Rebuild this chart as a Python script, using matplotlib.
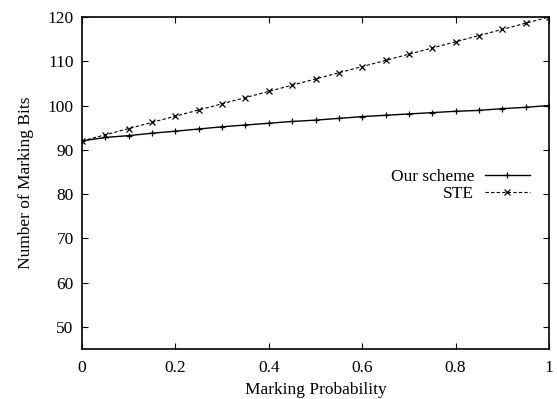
import numpy as np
import matplotlib
matplotlib.use('Agg')
import matplotlib.pyplot as plt

# datos
prob = [0.0, 0.05, 0.1, 0.15, 0.2, 0.25, 0.3, 0.35, 0.4, 0.45, 0.5,
        0.55, 0.6, 0.65, 0.7, 0.75, 0.8, 0.85, 0.9, 0.95, 1.0]
our_scheme = [92.0, 92.8, 93.2, 93.75, 94.2, 94.7, 95.2, 95.6, 96.0, 96.4, 96.7,
              97.1, 97.5, 97.8, 98.1, 98.4, 98.7, 98.9, 99.3, 99.6, 100.0]
ste = [92.0, 93.4, 94.8, 96.2, 97.6, 99.0, 100.4, 101.8, 103.2, 104.6, 106.0,
       107.4, 108.8, 110.2, 111.6, 113.0, 114.4, 115.8, 117.2, 118.6, 120.0]

xticks = [0, 0.2, 0.4, 0.6, 0.8, 1]
xtick_labels = ['0', '0.2', '0.4', '0.6', '0.8', '1']
yticks = [50, 60, 70, 80, 90, 100, 110, 120]

plt.rcParams['font.family'] = ['Liberation Serif', 'DejaVu Serif']
fs = 12.5

fig = plt.figure(figsize=(5.57, 3.99), dpi=100)
ax = fig.add_axes([82/557, 50/399, 467/557, 332/399])

ax.plot(prob, our_scheme, color='black', lw=1.0, marker='+', ms=5, mew=0.9,
        label='Our scheme')
ax.plot(prob, ste, color='black', lw=0.8, ls=(0, (3, 2)), marker='x', ms=4,
        mew=0.9, label='STE')

ax.set_xlim(0, 1)
ax.set_ylim(45, 120)
ax.set_xticks(xticks)
ax.set_xticklabels(xtick_labels)
ax.set_yticks(yticks)
ax.tick_params(direction='in', length=4, width=0.8, top=True, right=True,
               labelsize=fs, pad=6)
ax.tick_params(axis='x', pad=8)
for s in ax.spines.values():
    s.set_linewidth(1.2)

ax.set_xlabel('Marking Probability', fontsize=fs, labelpad=4)
ax.set_ylabel('Number of Marking Bits', fontsize=fs, labelpad=10)

leg = ax.legend(loc='center right', bbox_to_anchor=(0.959, 0.493),
                frameon=False, markerfirst=False, handlelength=2.6,
                handletextpad=0.6, labelspacing=0.05, borderpad=0,
                borderaxespad=0, fontsize=fs)

fig.savefig('out.png', dpi=100)
